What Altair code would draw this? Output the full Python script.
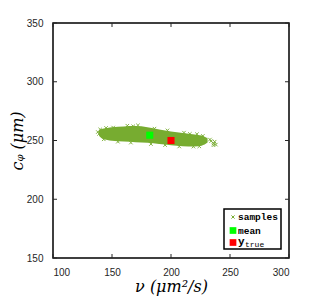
import altair as alt
import pandas as pd

# ---- data ----
cloud_nu = [139, 142, 146, 150, 160, 170, 180, 190, 200, 210, 220, 226, 231]
cloud_hi = [259.0, 260.0, 260.6, 261.2, 262.0, 262.3, 261.3, 259.4, 257.7, 256.4, 255.2, 254.3, 252.0]
cloud_lo = [254.0, 251.4, 250.4, 249.8, 249.2, 248.6, 248.0, 247.0, 246.0, 245.2, 245.0, 245.6, 248.2]

stray_nu = [140, 145, 151, 163, 168, 172, 186, 197, 211, 216, 222, 227,
            143, 155, 166, 183, 195, 207, 219, 224,
            233, 234, 236, 237, 238, 236, 138, 139]
stray_c = [259.4, 260.7, 261.0, 262.6, 262.1, 262.9, 260.1, 258.6, 256.7, 255.6, 255.4, 253.9,
           251.0, 249.0, 248.2, 247.0, 246.1, 244.9, 244.8, 245.0,
           250.8, 249.5, 247.5, 249.0, 246.5, 246.0, 257.2, 255.6]

mean_nu, mean_c = [182], [254.5]
true_nu, true_c = [200], [250]

x_ticks = [100, 150, 200, 250, 300]
y_ticks = [150, 200, 250, 300, 350]

legend_labels = ["samples", "mean"]

GREEN = "#77AC30"
W, H = 236, 235

xs = alt.Scale(domain=[100, 300], nice=False)
ys = alt.Scale(domain=[150, 350], nice=False)

cloud = pd.DataFrame({"nu": cloud_nu, "hi": cloud_hi, "lo": cloud_lo})
stray = pd.DataFrame({"nu": stray_nu, "c": stray_c})
mean_df = pd.DataFrame({"nu": mean_nu, "c": mean_c})
true_df = pd.DataFrame({"nu": true_nu, "c": true_c})
xt = pd.DataFrame({"v": x_ticks})
yt = pd.DataFrame({"v": y_ticks})
one = pd.DataFrame({"a": [0]})

xaxis = alt.Axis(values=x_ticks, ticks=False, domain=False, grid=False, labelPadding=9,
                 labelFontSize=10, labelColor="#262626", labelFont="Liberation Sans",
                 title="ν (μm²/s)", titleFont="DejaVu Serif", titleFontStyle="italic",
                 titleFontSize=16, titleFontWeight="normal", titleColor="black", titlePadding=1)
yaxis = alt.Axis(values=y_ticks, ticks=False, domain=False, grid=False, labelPadding=10,
                 labelFontSize=10, labelColor="#262626", labelFont="Liberation Sans",
                 title="cᵩ (μm)", titleFont="DejaVu Serif", titleFontStyle="italic",
                 titleFontSize=16, titleFontWeight="normal", titleColor="black", titlePadding=1)

area = alt.Chart(cloud).mark_area(color=GREEN, opacity=1, interpolate="monotone").encode(
    x=alt.X("nu:Q", scale=xs, axis=xaxis),
    y=alt.Y("hi:Q", scale=ys, axis=yaxis),
    y2="lo:Q",
)

xshape = "M-1,-1L1,1M1,-1L-1,1"
strays = alt.Chart(stray).mark_point(shape=xshape, filled=False, stroke=GREEN, strokeWidth=1, size=12, opacity=0.9).encode(
    x=alt.X("nu:Q", scale=xs), y=alt.Y("c:Q", scale=ys))

mean_m = alt.Chart(mean_df).mark_square(color="#00FF00", size=50, opacity=1).encode(
    x=alt.X("nu:Q", scale=xs), y=alt.Y("c:Q", scale=ys))
true_m = alt.Chart(true_df).mark_square(color="#FF0000", size=50, opacity=1).encode(
    x=alt.X("nu:Q", scale=xs), y=alt.Y("c:Q", scale=ys))

tick_style = dict(color="#262626", strokeWidth=1)
tb = alt.Chart(xt).mark_rule(**tick_style).encode(x=alt.X("v:Q", scale=xs), y=alt.value(H), y2=alt.value(H - 4))
tt = alt.Chart(xt).mark_rule(**tick_style).encode(x=alt.X("v:Q", scale=xs), y=alt.value(0), y2=alt.value(4))
tl = alt.Chart(yt).mark_rule(**tick_style).encode(y=alt.Y("v:Q", scale=ys), x=alt.value(0), x2=alt.value(4))
tr = alt.Chart(yt).mark_rule(**tick_style).encode(y=alt.Y("v:Q", scale=ys), x=alt.value(W), x2=alt.value(W - 4))

# ---- legend (drawn manually) ----
LX0, LX1, LY0, LY1 = 171, 228, 186, 226
box = alt.Chart(one).mark_rect(fill="white", stroke="black", strokeWidth=1.5).encode(
    x=alt.value(LX0), x2=alt.value(LX1), y=alt.value(LY0), y2=alt.value(LY1))
sym_x = 180
lg1 = alt.Chart(one).mark_point(shape=xshape, filled=False, stroke=GREEN, strokeWidth=1, size=10, opacity=1).encode(
    x=alt.value(sym_x), y=alt.value(194))
lg2 = alt.Chart(one).mark_square(color="#00FF00", size=45, opacity=1).encode(x=alt.value(sym_x), y=alt.value(207.5))
lg3 = alt.Chart(one).mark_square(color="#FF0000", size=45, opacity=1).encode(x=alt.value(sym_x), y=alt.value(219.5))
txt_style = dict(font="Liberation Mono", fontWeight="bold", fontSize=9.5, align="left", baseline="middle", color="black")
t1 = alt.Chart(one).mark_text(text=legend_labels[0], **txt_style).encode(x=alt.value(185), y=alt.value(194))
t2 = alt.Chart(one).mark_text(text=legend_labels[1], **txt_style).encode(x=alt.value(185), y=alt.value(207.5))
t3 = alt.Chart(one).mark_text(text="y", font="Liberation Mono", fontWeight="bold", fontSize=11, align="left",
                              baseline="middle", color="black").encode(x=alt.value(185), y=alt.value(218.5))
t4 = alt.Chart(one).mark_text(text="true", font="Liberation Mono", fontSize=8, align="left",
                              baseline="middle", color="black").encode(x=alt.value(192), y=alt.value(222))

chart = alt.layer(area, strays, mean_m, true_m, tb, tt, tl, tr, box, lg1, lg2, lg3, t1, t2, t3, t4).properties(
    width=W, height=H,
    autosize=alt.AutoSizeParams(type="none"),
    padding={"left": 45, "top": 15, "right": 30, "bottom": 45},
).configure_view(stroke="black", strokeWidth=1.5)

chart.save("out.html", embed_options={"renderer": "svg", "actions": False})
